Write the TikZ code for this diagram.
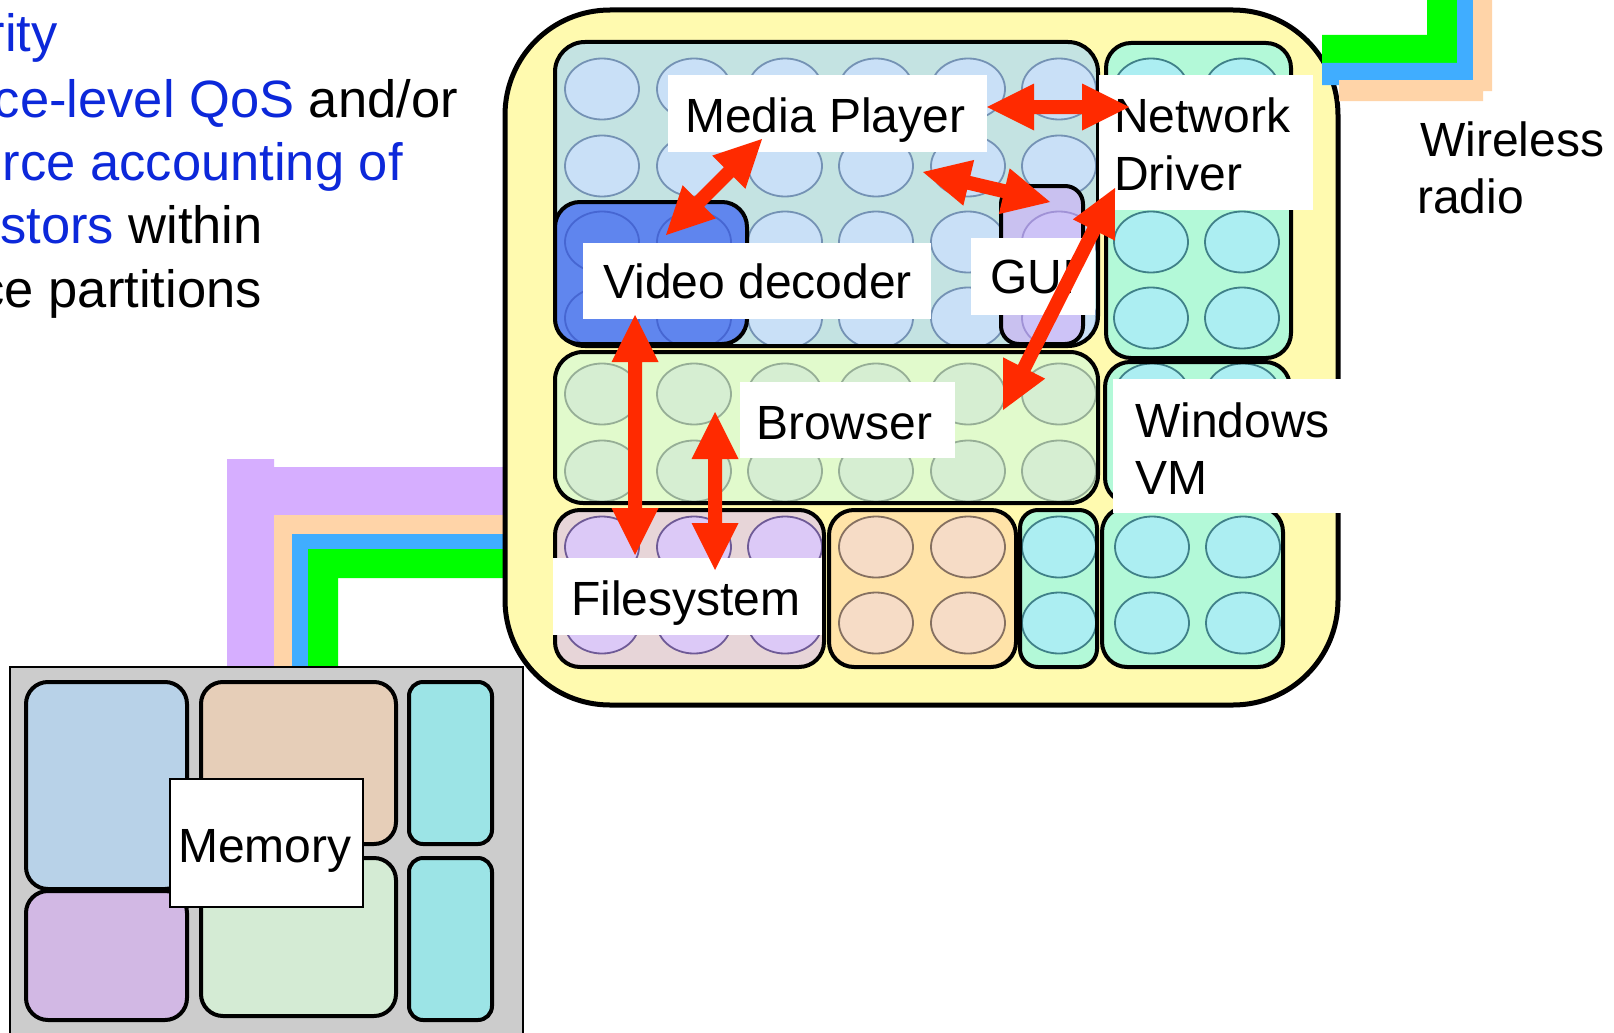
\documentclass[tikz,border=0pt]{standalone}
\usepackage{fontspec}
\setmainfont{Liberation Sans}
\usetikzlibrary{calc}

% palette
\definecolor{yellowbg}{HTML}{FFFAAF}
\definecolor{mpbg}{HTML}{C4E3E2}
\definecolor{vdbg}{HTML}{6086EE}
\definecolor{guibg}{HTML}{C9C1F0}
\definecolor{brbg}{HTML}{E1FACC}
\definecolor{fsbg}{HTML}{E7D5D8}
\definecolor{orbg}{HTML}{FFE3A8}
\definecolor{mintbg}{HTML}{B3F9D8}
\definecolor{memgray}{HTML}{CCCCCC}
\definecolor{memblue}{HTML}{B8D2E8}
\definecolor{mempurple}{HTML}{D2B8E4}
\definecolor{memtan}{HTML}{E6CEB8}
\definecolor{memgreen}{HTML}{D4EBD4}
\definecolor{memcyan}{HTML}{9CE4E6}
\definecolor{buspurple}{HTML}{D6AEFF}
\definecolor{buspeach}{HTML}{FFD4A8}
\definecolor{busblue}{HTML}{40ADFF}
\definecolor{busgreen}{HTML}{00FF00}
\definecolor{arrowred}{HTML}{FF2A00}
\definecolor{slideblue}{RGB}{12,40,218}

\tikzset{
  lbltext/.style={font=\fontsize{48}{57}\selectfont, inner sep=0pt, anchor=base west},
  lefttext/.style={font=\fontsize{52.5}{64}\selectfont, inner sep=0pt, anchor=base east},
  lblbox/.style={fill=white, inner sep=0pt, outer sep=0pt},
  cellborder/.style={line width=4pt, draw=black},
  memcell/.style={line width=4pt, draw=black},
  ellblue/.style={fill={rgb,255:red,201;green,224;blue,247}, draw={rgb,255:red,116;green,146;blue,180}, line width=1.8pt},
  ellvd/.style={fill={rgb,255:red,95;green,133;blue,238}, draw={rgb,255:red,70;green,102;blue,210}, line width=1.8pt},
  ellgui/.style={fill={rgb,255:red,205;green,195;blue,247}, draw={rgb,255:red,160;green,146;blue,214}, line width=1.8pt},
  ellgreen/.style={fill={rgb,255:red,214;green,238;blue,210}, draw={rgb,255:red,150;green,174;blue,150}, line width=1.8pt},
  ellpurple/.style={fill={rgb,255:red,220;green,201;blue,247}, draw={rgb,255:red,110;green,90;blue,150}, line width=1.8pt},
  ellpeach/.style={fill={rgb,255:red,246;green,220;blue,198}, draw={rgb,255:red,133;green,112;blue,96}, line width=1.8pt},
  ellcyan/.style={fill={rgb,255:red,172;green,238;blue,242}, draw={rgb,255:red,63;green,128;blue,136}, line width=1.8pt},
}

% rounded partition with a grid of task ellipses clipped to it
% #1,#2 corners  #3 radius  #4 fill  #5 ellipse style  #6 columns  #7 rows
\newcommand\cellbox[7]{%
  \fill[#4, rounded corners=#3] #1 rectangle #2;
  \begin{scope}
    \clip[rounded corners=#3] #1 rectangle #2;
    \foreach \cx in {#6} \foreach \cy in {#7}
      \draw[#5] (\cx,\cy) ellipse [x radius=37, y radius=30.5];
  \end{scope}
  \draw[cellborder, rounded corners=#3] #1 rectangle #2;
}

% thick double-headed block arrow between two named points
\newcommand\twoway[2]{%
  \path ($(#1)!47pt!(#2)$) coordinate (#1-h)
        ($(#2)!47pt!(#1)$) coordinate (#2-h);
  \fill[arrowred] (#1)
    -- ($(#1-h)!23.5pt!90:(#2)$)
    -- ($(#1-h)!7pt!90:(#2)$)
    -- ($(#2-h)!7pt!-90:(#1)$)
    -- ($(#2-h)!23.5pt!-90:(#1)$)
    -- (#2)
    -- ($(#2-h)!23.5pt!90:(#1)$)
    -- ($(#2-h)!7pt!90:(#1)$)
    -- ($(#1-h)!7pt!-90:(#2)$)
    -- ($(#1-h)!23.5pt!-90:(#2)$)
    -- cycle;
}

\begin{document}
\begin{tikzpicture}[x=1pt, y=-1pt]
\useasboundingbox (0,0) rectangle (1614,1033);
\fill[white] (0,0) rectangle (1614,1033);

% slide text on the left
\node[lefttext, text=slideblue] (t1) at (58,52) {rity};
\node[lefttext] (t2) at (458,117) {\textcolor{slideblue}{ce-level QoS} and/or};
\node[lefttext, text=slideblue] (t3) at (403,180) {rce accounting of};
\node[lefttext] (t4) at (263,243) {\textcolor{slideblue}{stors} within};
\node[lefttext] (t5) at (262,307) {ce partitions};

% bus from memory to the partitioned system
\fill[buspurple] (227,459) -- (274,459) -- (274,467) -- (512,467) -- (512,515)
  -- (274,515) -- (274,667) -- (227,667) -- cycle;
\fill[buspeach] (274,515) -- (512,515) -- (512,534) -- (292,534) -- (292,667) -- (274,667) -- cycle;
\fill[busblue] (292,534) -- (512,534) -- (512,549) -- (308,549) -- (308,667) -- (292,667) -- cycle;
\fill[busgreen] (308,549) -- (512,549) -- (512,578) -- (338,578) -- (338,667) -- (308,667) -- cycle;

% memory
\draw[fill=memgray, line width=1.5pt] (10,667) rectangle (523,1045);
\draw[memcell, fill=memblue, rounded corners=22pt] (26,682) rectangle (187,889);
\draw[memcell, fill=mempurple, rounded corners=22pt] (26,891) rectangle (187,1020);
\draw[memcell, fill=memtan, rounded corners=22pt] (201,682) rectangle (396,844);
\draw[memcell, fill=memgreen, rounded corners=22pt] (201,858) rectangle (396,1016);
\draw[memcell, fill=memcyan, rounded corners=14pt] (409,682) rectangle (492,844);
\draw[memcell, fill=memcyan, rounded corners=14pt] (409,858) rectangle (492,1020);
\node[lblbox, draw=black, line width=1.3pt, minimum width=193pt, minimum height=128pt] (mem) at (266.5,843) {};
\node[lbltext] (memtext) at (178,862) {Memory};

% partitioned system
\draw[fill=yellowbg, line width=5pt, rounded corners=105pt] (505,10) rectangle (1338,705);

\cellbox{(555,42)}{(1098,346)}{30pt}{mpbg}{ellblue}{602,694,785,876,968,1059}{89,166,242,318}
\cellbox{(555,202)}{(747,344)}{25pt}{vdbg}{ellvd}{602,694}{242,318}
\cellbox{(1001,186)}{(1083,344)}{18pt}{guibg}{ellgui}{1059}{242,318}
\cellbox{(1106,43)}{(1291,358)}{25pt}{mintbg}{ellcyan}{1151,1242}{89,166,242,318}
\cellbox{(555,352)}{(1098,503)}{28pt}{brbg}{ellgreen}{602,694,785,876,968,1059}{394,471}
\cellbox{(1105,362)}{(1290,503)}{25pt}{mintbg}{ellcyan}{1152,1243}{394,471}
\cellbox{(555,510)}{(824,667)}{25pt}{fsbg}{ellpurple}{602,694,785}{547,623}
\cellbox{(829,510)}{(1016,667)}{25pt}{orbg}{ellpeach}{876,968}{547,623}
\cellbox{(1020,510)}{(1097,667)}{18pt}{mintbg}{ellcyan}{1059}{547,623}
\cellbox{(1102,507)}{(1283,667)}{25pt}{mintbg}{ellcyan}{1152,1243}{547,623}

% wireless bus
\fill[busgreen] (1322,35) -- (1427,35) -- (1427,-2) -- (1457,-2) -- (1457,63) -- (1322,63) -- cycle;
\fill[busblue] (1322,63) -- (1457,63) -- (1457,-2) -- (1473,-2) -- (1473,80)
  -- (1339,80) -- (1339,85) -- (1322,85) -- cycle;
\fill[buspeach] (1339,80) -- (1473,80) -- (1473,-2) -- (1492,-2) -- (1492,91)
  -- (1483,91) -- (1483,101) -- (1339,101) -- cycle;
\node[lbltext] (wl1) at (1420,156) {Wireless};
\node[lbltext] (wl2) at (1417,213) {radio};

% labels
\node[lblbox, minimum width=319pt, minimum height=77pt] (mp) at (827.5,113.5) {};
\node[lbltext] (mptext) at (685,132) {Media Player};
\node[lblbox, minimum width=348pt, minimum height=76pt] (vd) at (757,281) {};
\node[lbltext] (vdtext) at (603,298) {Video decoder};
\node[lblbox, minimum width=124pt, minimum height=77pt] (gui) at (1033,276.5) {};
\node[lbltext] (guitext) at (990,293) {GUI};
\node[lblbox, minimum width=215pt, minimum height=76pt] (br) at (847.5,420) {};
\node[lbltext] (brtext) at (756,439) {Browser};
\node[lblbox, minimum width=269pt, minimum height=77pt] (fs) at (687.5,596.5) {};
\node[lbltext] (fstext) at (571,615) {Filesystem};
\node[lblbox, minimum width=214pt, minimum height=135pt] (nd) at (1206,142.5) {};
\node[lbltext] (ndtext1) at (1114,132) {Network};
\node[lbltext] (ndtext2) at (1114,190) {Driver};
\node[lblbox, minimum width=229pt, minimum height=134pt] (wvm) at (1227.5,446) {};
\node[lbltext] (wvmtext1) at (1135,437) {Windows};
\node[lbltext] (wvmtext2) at (1135,494) {VM};

% communication channels
\coordinate (mp-nd-a) at (987,107);  \coordinate (mp-nd-b) at (1129,107);
\coordinate (mp-vd-a) at (762,139);  \coordinate (mp-vd-b) at (666,235);
\coordinate (mp-gui-a) at (923,172); \coordinate (mp-gui-b) at (1050,202);
\coordinate (nd-br-a) at (1115,188); \coordinate (nd-br-b) at (1003,410);
\coordinate (vd-fs-a) at (635,315);  \coordinate (vd-fs-b) at (635,555);
\coordinate (br-fs-a) at (715,412);  \coordinate (br-fs-b) at (715,570);
\twoway{mp-nd-a}{mp-nd-b}
\twoway{mp-vd-a}{mp-vd-b}
\twoway{mp-gui-a}{mp-gui-b}
\twoway{nd-br-a}{nd-br-b}
\twoway{vd-fs-a}{vd-fs-b}
\twoway{br-fs-a}{br-fs-b}
\end{tikzpicture}
\end{document}
